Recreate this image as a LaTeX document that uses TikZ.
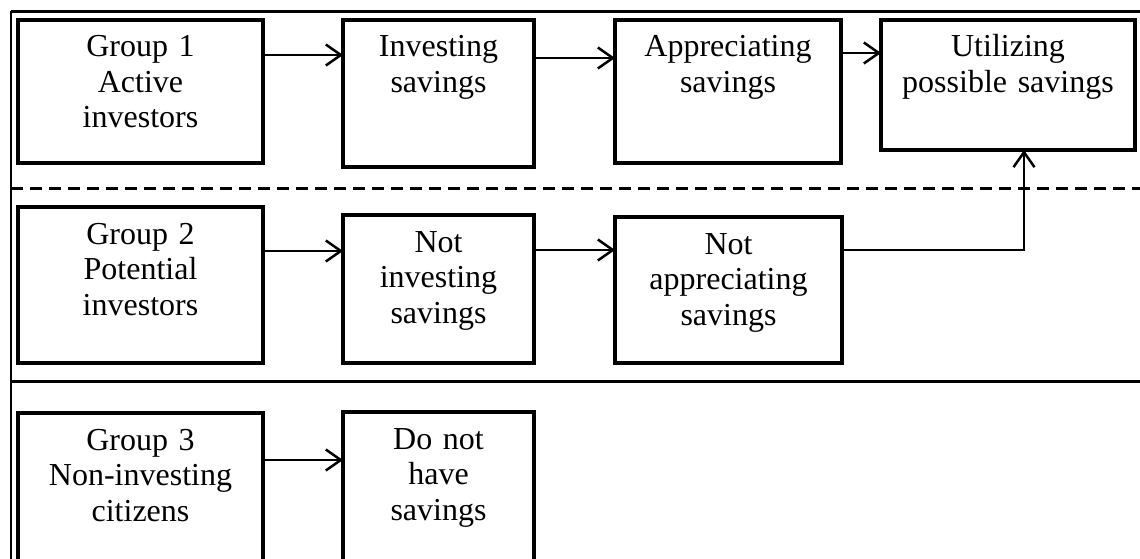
\documentclass[tikz,border=0pt]{standalone}
\usepackage{fontspec}
\setmainfont{Liberation Serif}
\usetikzlibrary{arrows.meta,positioning}
\newcommand{\stagefont}{\fontsize{32}{35.5}\selectfont}

\begin{document}
\begin{tikzpicture}[
    x=1pt, y=-1pt,
    stage/.style={rectangle, draw, line width=4.4pt, inner sep=0pt, outer sep=0pt, align=center, text height=37pt, font=\stagefont, anchor=north west},
    boxsize/.style n args={2}{text width=#1, text depth=#2},
    flow/.style={line width=2.5pt, -{Straight Barb[length=15pt, width=21pt]}},
    divider/.style={line width=3pt}
]
\useasboundingbox (0,0) rectangle (1140,559);

% Frame and row separators
\draw[divider] (11,11.5) -- (1140,11.5);
\draw[line width=2pt] (11,11) -- (11,559);
\draw[divider, dash pattern=on 12pt off 7pt] (11,188) -- (1140,188);
\draw[divider] (11,381.5) -- (1140,381.5);

% Group 1
\node[stage, boxsize={245pt}{106pt}] (g1) at (18,20) {Group 1\\Active\\investors};
\node[stage, boxsize={191pt}{110pt}, right=80pt of g1.north east, anchor=north west] (inv) {Investing\\savings};
\node[stage, boxsize={226pt}{106pt}, right=81pt of inv.north east, anchor=north west] (app) {Appreciating\\savings};
\node[stage, boxsize={254pt}{93pt}, right=40pt of app.north east, anchor=north west] (util) {Utilizing\\possible savings};

% Group 2
\node[stage, boxsize={245pt}{119pt}] (g2) at (18,207) {Group 2\\Potential\\investors};
\node[stage, boxsize={191pt}{111pt}, right=80pt of g2.north east, anchor=north west, yshift=-8pt] (notinv) {Not\\investing\\savings};
\node[stage, boxsize={227pt}{109pt}, right=81pt of notinv.north east, anchor=north west, yshift=-2pt] (notapp) {Not\\appreciating\\savings};

% Group 3
\node[stage, boxsize={245pt}{130pt}] (g3) at (18,413) {Group 3\\Non-investing\\citizens};
\node[stage, boxsize={191pt}{130pt}, right=80pt of g3.north east, anchor=north west, yshift=1pt] (nosav) {Do not\\have\\savings};

% Connections
\draw[flow] ([yshift=-35pt]g1.north east) -- ([yshift=-35pt]inv.north west);
\draw[flow] ([yshift=-38pt]inv.north east) -- ([yshift=-38pt]app.north west);
\draw[flow] ([yshift=-33pt]app.north east) -- ([yshift=-33pt]util.north west);
\draw[flow] ([yshift=-44pt]g2.north east) -- ([yshift=-36pt]notinv.north west);
\draw[flow] ([yshift=-35pt]notinv.north east) -- ([yshift=-33pt]notapp.north west);
\draw[flow] ([yshift=-33pt]notapp.north east) -| ([xshift=16pt]util.south);
\draw[flow] ([yshift=-47pt]g3.north east) -- ([yshift=-48pt]nosav.north west);

\end{tikzpicture}
\end{document}
